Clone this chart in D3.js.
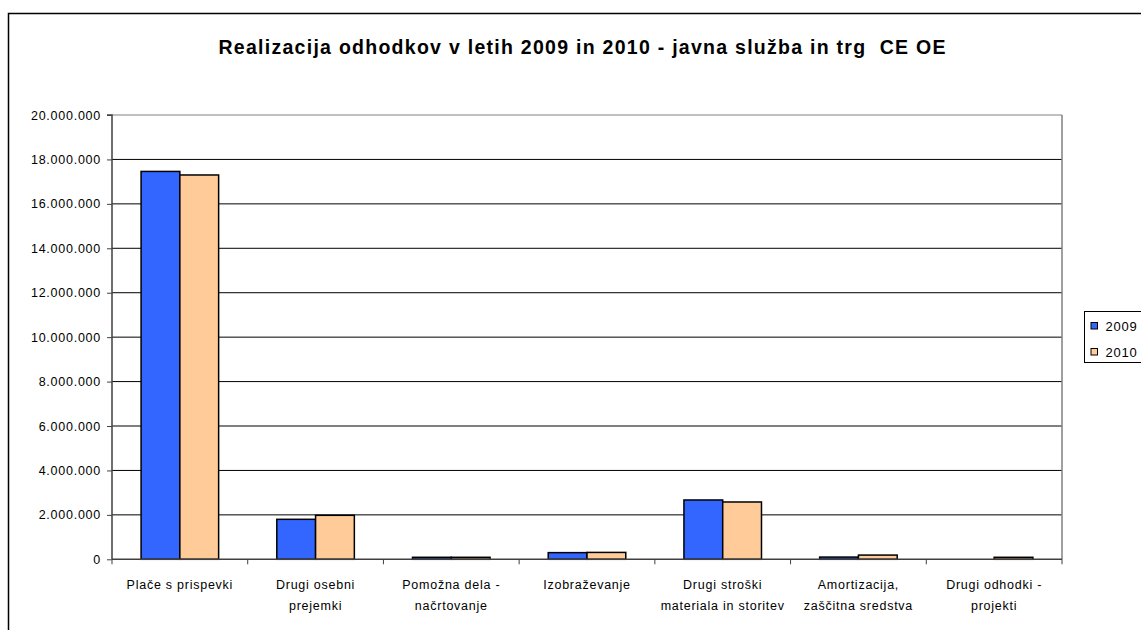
<!DOCTYPE html>
<html><head><meta charset="utf-8">
<script src="https://cdn.jsdelivr.net/npm/d3@7"></script>
<style>body{margin:0;background:#fff;}svg{display:block;font-family:"Liberation Sans",Arial,sans-serif;}</style>
</head><body>
<svg id="c" width="1141" height="630"></svg>
<script>
const categories = [
  ["Plače s prispevki"],
  ["Drugi osebni", "prejemki"],
  ["Pomožna dela -", "načrtovanje"],
  ["Izobraževanje"],
  ["Drugi stroški", "materiala in storitev"],
  ["Amortizacija,", "zaščitna sredstva"],
  ["Drugi odhodki -", "projekti"]
];
const seriesNames = ["2009", "2010"];
const values2009 = [17460000, 1800000, 90000, 300000, 2670000, 100000, 0];
const values2010 = [17300000, 1980000, 90000, 310000, 2580000, 190000, 90000];
const yTicks = [0, 2000000, 4000000, 6000000, 8000000, 10000000, 12000000, 14000000, 16000000, 18000000, 20000000];
const colors = ["#3366FF", "#FFCC99"];
const title = "Realizacija odhodkov v letih 2009 in 2010 - javna služba in trg  CE OE";

const svg = d3.select("#c");
const L = 112, R = 1062, T = 115, B = 559.3;
const FS = 12.5, LS = 0.75;

// outer frame
svg.append("path").attr("d", `M8.5,630 L8.5,13.5 L1141,13.5`).attr("fill","none").attr("stroke","#000").attr("stroke-width",1.5);

svg.append("text").attr("x", 582).attr("y", 54).attr("text-anchor","middle")
  .attr("font-size", 19.5).attr("font-weight","bold").attr("textLength", 727).attr("lengthAdjust","spacing")
  .style("white-space","pre").text(title);

const x0 = d3.scaleBand().domain(d3.range(categories.length)).range([L, R]).padding(0);
const bw = x0.bandwidth();
const x1 = d3.scaleBand().domain(seriesNames).range([bw*0.75/3.5, bw - bw*0.75/3.5]).padding(0);
const y = d3.scaleLinear().domain([0, 20000000]).range([B, T]);

const fmt = v => d3.format(",")(v).replace(/,/g, ".");

// gridlines
svg.append("g").selectAll("line").data(yTicks.filter(d => d > 0)).join("line")
  .attr("x1", L).attr("x2", R).attr("y1", d => y(d)).attr("y2", d => y(d))
  .attr("stroke", d => d === 20000000 ? "#808080" : "#000").attr("stroke-width", 1);
// right border of plot
svg.append("line").attr("x1", R).attr("x2", R).attr("y1", T).attr("y2", B).attr("stroke","#808080").attr("stroke-width",1.5);

// bars
const data = [values2009, values2010];
const g = svg.append("g");
categories.forEach((c, i) => {
  seriesNames.forEach((s, j) => {
    const v = data[j][i];
    if (v <= 0) return;
    g.append("rect").attr("x", x0(i) + x1(s)).attr("width", x1.bandwidth())
      .attr("y", y(v)).attr("height", B - y(v))
      .attr("fill", colors[j]).attr("stroke", "#000").attr("stroke-width", 1.5);
  });
});

// y axis
const yAxis = d3.axisLeft(y).tickValues(yTicks).tickFormat(fmt).tickSize(5).tickPadding(6);
const ya = svg.append("g").attr("transform", `translate(${L},0)`).call(yAxis);
ya.select(".domain").attr("stroke","#404040").attr("stroke-width",1.5).attr("d", `M-5,${T}H0V${B}`);
ya.selectAll(".tick line").attr("stroke","#404040");
ya.selectAll(".tick text").attr("font-size", FS).attr("letter-spacing", LS).attr("fill","#000")
  .attr("font-family","Liberation Sans, Arial, sans-serif");

// x axis
const xAxisScale = d3.scaleLinear().domain([0, categories.length]).range([L, R]);
svg.append("line").attr("x1", L).attr("x2", R).attr("y1", B).attr("y2", B).attr("stroke","#404040").attr("stroke-width",1.5);
svg.append("g").selectAll("line").data(d3.range(categories.length + 1)).join("line")
  .attr("x1", d => xAxisScale(d)).attr("x2", d => xAxisScale(d)).attr("y1", B).attr("y2", B + 5)
  .attr("stroke","#404040").attr("stroke-width",1);
const xl = svg.append("g").selectAll("text").data(categories).join("text")
  .attr("x", (d, i) => x0(i) + bw/2).attr("y", 589).attr("text-anchor","middle")
  .attr("font-size", FS).attr("letter-spacing", LS);
xl.each(function(d) {
  const t = d3.select(this);
  d.forEach((line, k) => t.append("tspan").attr("x", t.attr("x")).attr("dy", k === 0 ? 0 : 21).text(line));
});

// legend
const lg = svg.append("g");
lg.append("rect").attr("x", 1084.5).attr("y", 311.5).attr("width", 70).attr("height", 51)
  .attr("fill","#fff").attr("stroke","#000").attr("stroke-width",1);
seriesNames.forEach((s, j) => {
  const yy = 322.5 + j * 26;
  lg.append("rect").attr("x", 1091).attr("y", yy).attr("width", 6.5).attr("height", 6.5)
    .attr("fill", colors[j]).attr("stroke","#000").attr("stroke-width",1);
  lg.append("text").attr("x", 1105.5).attr("y", yy + 8).attr("font-size", 13).attr("letter-spacing", LS).text(s);
});
</script>
</body></html>
